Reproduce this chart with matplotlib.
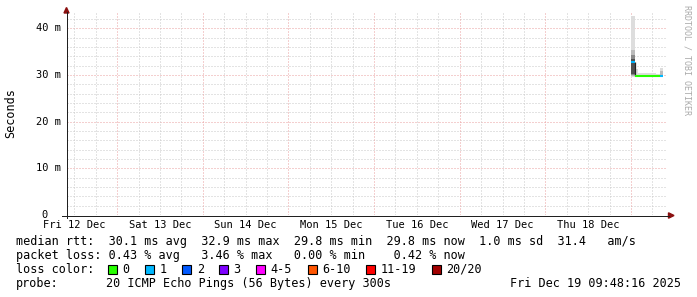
import matplotlib
matplotlib.use("Agg")
import matplotlib.pyplot as plt
import matplotlib.dates as mdates
import matplotlib.transforms as mtransforms
from matplotlib.patches import Polygon, Rectangle
from matplotlib.lines import Line2D
import pandas as pd

# ---------------- data ----------------
graph_start = "2025-12-12 09:48:16"
graph_end = "2025-12-19 09:48:16"
bin_starts = pd.date_range("2025-12-19 00:00", periods=9, freq="h")   # 1 h consolidated bins
median_rtt = [32.8, 29.8, 29.8, 29.8, 29.8, 29.8, 29.8, 29.8, 29.8]   # ms
loss_index = [1, 0, 0, 0, 0, 0, 0, 0, 1]                              # index into loss colours
smoke_min = [29.6, 29.6, 29.6, 29.6, 29.6, 29.6, 29.6, 29.6, 29.6]
smoke_p05 = [29.7, 29.65, 29.65, 29.65, 29.65, 29.65, 29.65, 29.65, 29.65]
smoke_p15 = [29.9, 29.7, 29.7, 29.7, 29.7, 29.7, 29.7, 29.7, 29.7]
smoke_p30 = [30.3, 29.75, 29.75, 29.75, 29.75, 29.75, 29.75, 29.75, 29.75]
smoke_p70 = [33.4, 29.85, 29.85, 29.85, 29.85, 29.85, 29.85, 29.85, 29.85]
smoke_p85 = [34.2, 29.95, 29.95, 29.95, 29.9, 29.9, 29.9, 29.9, 29.95]
smoke_p95 = [35.4, 30.0, 30.0, 30.0, 30.0, 30.0, 30.0, 30.0, 30.8]
smoke_max = [42.7, 31.2, 30.5, 30.5, 30.35, 30.35, 30.35, 30.15, 31.5]

day_labels = ["Fri 12 Dec", "Sat 13 Dec", "Sun 14 Dec", "Mon 15 Dec",
              "Tue 16 Dec", "Wed 17 Dec", "Thu 18 Dec"]
day_noons = pd.date_range("2025-12-12 12:00", periods=7, freq="D")
y_ticks = [0, 10, 20, 30, 40]
y_labels = ["0\u00a0\u00a0", "10 m", "20 m", "30 m", "40 m"]

loss_labels = ["0", "1", "2", "3", "4-5", "6-10", "11-19", "20/20"]
loss_colors = ["#26ff00", "#00b8ff", "#0059ff", "#7e00ff",
               "#ff00ff", "#ff5500", "#ff0000", "#a10000"]

legend_rtt = "median rtt:  30.1 ms avg  32.9 ms max  29.8 ms min  29.8 ms now  1.0 ms sd  31.4   am/s"
legend_loss = "packet loss: 0.43 % avg   3.46 % max   0.00 % min    0.42 % now"
legend_color = "loss color:"
probe_label = "probe:"
probe_text = "20 ICMP Echo Pings (56 Bytes) every 300s"
timestamp_text = "Fri Dec 19 09:48:16 2025"
y_title = "Seconds"
watermark = "RRDTOOL / TOBI OETIKER"

# ---------------- layout ----------------
W, H = 697, 297
MONO = "DejaVu Sans Mono"
LEG = 8.5
AXF = 7.45


def fx(x):
    return x / W


def fy(y):
    return 1 - y / H


fig = plt.figure(figsize=(W / 100, H / 100), dpi=100, facecolor="white")
ax_l, ax_r, ax_t, ax_b = 66.5, 666.0, 13.0, 215.0
ax = fig.add_axes([fx(ax_l), fy(ax_b), (ax_r - ax_l) / W, (ax_b - ax_t) / H])
ax.set_facecolor("white")
for s in ax.spines.values():
    s.set_visible(False)
ax.set_xticks([])
ax.set_yticks([])

t0 = mdates.date2num(pd.Timestamp(graph_start).to_pydatetime())
t1 = mdates.date2num(pd.Timestamp(graph_end).to_pydatetime())
ax.set_xlim(t0, t1)
ax.set_ylim(0, (ax_b - ax_t) / 4.667)

GREY = "#c8c8c8"
RED = "#eaa0a0"
grid_kw = dict(lw=0.72, linestyle=(0, (1.0, 2.0)), antialiased=True, zorder=1)

# horizontal grid
for v in range(2, 44, 2):
    if v % 10 == 0:
        ax.axhline(v, color=RED, **grid_kw)
    else:
        ax.axhline(v, color=GREY, **grid_kw)
# vertical grid
six_hours = pd.date_range("2025-12-12 12:00", "2025-12-19 09:00", freq="6h")
for t in six_hours:
    xn = mdates.date2num(t.to_pydatetime())
    if t.hour == 0:
        ax.axvline(xn, color=RED, **grid_kw)
    else:
        ax.axvline(xn, color=GREY, **grid_kw)

# smoke
x_num = mdates.date2num(bin_starts.to_pydatetime())
bw = 1 / 24
shade_pairs = [
    (smoke_min, smoke_p05, "#dddddd"),
    (smoke_p95, smoke_max, "#dddddd"),
    (smoke_p05, smoke_p15, "#bbbbbb"),
    (smoke_p85, smoke_p95, "#bbbbbb"),
    (smoke_p15, smoke_p30, "#8a8a8a"),
    (smoke_p70, smoke_p85, "#8a8a8a"),
    (smoke_p30, median_rtt, "#505050"),
    (median_rtt, smoke_p70, "#505050"),
]
for lo, hi, col in shade_pairs:
    heights = [h - l for l, h in zip(lo, hi)]
    ax.bar(x_num, heights, bottom=lo, width=bw, align="edge", color=col,
           linewidth=0, antialiased=False, zorder=2)

# median line
for i in range(1, len(median_rtt)):
    if median_rtt[i] != median_rtt[i - 1]:
        ax.vlines(x_num[i], min(median_rtt[i], median_rtt[i - 1]),
                  max(median_rtt[i], median_rtt[i - 1]), color="#222222",
                  lw=0.9, zorder=3)
ax.hlines(median_rtt, x_num, x_num + bw,
          colors=[loss_colors[k] for k in loss_index], lw=1.5, zorder=4)

# axes lines and arrows
AXC = "#202020"
fig.add_artist(Line2D([fx(62), fx(669)], [fy(215.5), fy(215.5)], color=AXC, lw=0.72,
                      transform=fig.transFigure, antialiased=True))
fig.add_artist(Line2D([fx(66.5), fx(66.5)], [fy(218), fy(12)], color=AXC, lw=0.72,
                      transform=fig.transFigure, antialiased=True))
ARC = "#8b1010"
fig.add_artist(Polygon([(fx(64.0), fy(13)), (fx(69.0), fy(13)), (fx(66.5), fy(7.5))],
                       closed=True, color=ARC, transform=fig.transFigure))
fig.add_artist(Polygon([(fx(668.5), fy(212.8)), (fx(668.5), fy(218.2)), (fx(674), fy(215.5))],
                       closed=True, color=ARC, transform=fig.transFigure))

# y tick labels
ytr = mtransforms.blended_transform_factory(fig.transFigure, ax.transData)
for v, lab in zip(y_ticks, y_labels):
    ax.text(fx(60.8), v, lab, transform=ytr, ha="right", va="center",
            family=MONO, fontsize=AXF, color="black")

# x tick labels (centred on noon of each day)
xtr = mtransforms.blended_transform_factory(ax.transData, fig.transFigure)
for t, lab in zip(day_noons, day_labels):
    ax.text(mdates.date2num(t.to_pydatetime()), fy(228.3), lab, transform=xtr,
            ha="center", va="baseline", family=MONO, fontsize=AXF, color="black")

# vertical title and watermark
fig.text(fx(10.7), fy(113), y_title, rotation=90, ha="center", va="center",
         family=MONO, fontsize=LEG, color="black")
fig.text(fx(687.5), fy(60), watermark, rotation=270, ha="center", va="center",
         family=MONO, fontsize=6, color="#aaaaaa")

# legend
fig.text(fx(15.5), fy(245), legend_rtt, ha="left", va="baseline",
         family=MONO, fontsize=LEG)
fig.text(fx(15.5), fy(259), legend_loss, ha="left", va="baseline",
         family=MONO, fontsize=LEG)
fig.text(fx(15.5), fy(273), legend_color, ha="left", va="baseline",
         family=MONO, fontsize=LEG)
sx = 108.3
for lab, col in zip(loss_labels, loss_colors):
    fig.add_artist(Rectangle((fx(sx), fy(273.8)), 9 / W, 9 / H, facecolor=col,
                             edgecolor="black", lw=0.8, transform=fig.transFigure))
    fig.text(fx(sx + 14.3), fy(273), lab, ha="left", va="baseline",
             family=MONO, fontsize=LEG)
    sx += 29.9 + 7.12 * len(lab)
fig.text(fx(15.5), fy(287), probe_label, ha="left", va="baseline",
         family=MONO, fontsize=LEG)
fig.text(fx(106.5), fy(287), probe_text, ha="left", va="baseline",
         family=MONO, fontsize=LEG)
fig.text(fx(680.5), fy(287), timestamp_text, ha="right", va="baseline",
         family=MONO, fontsize=LEG)

fig.savefig("out.png", dpi=100, facecolor="white")
